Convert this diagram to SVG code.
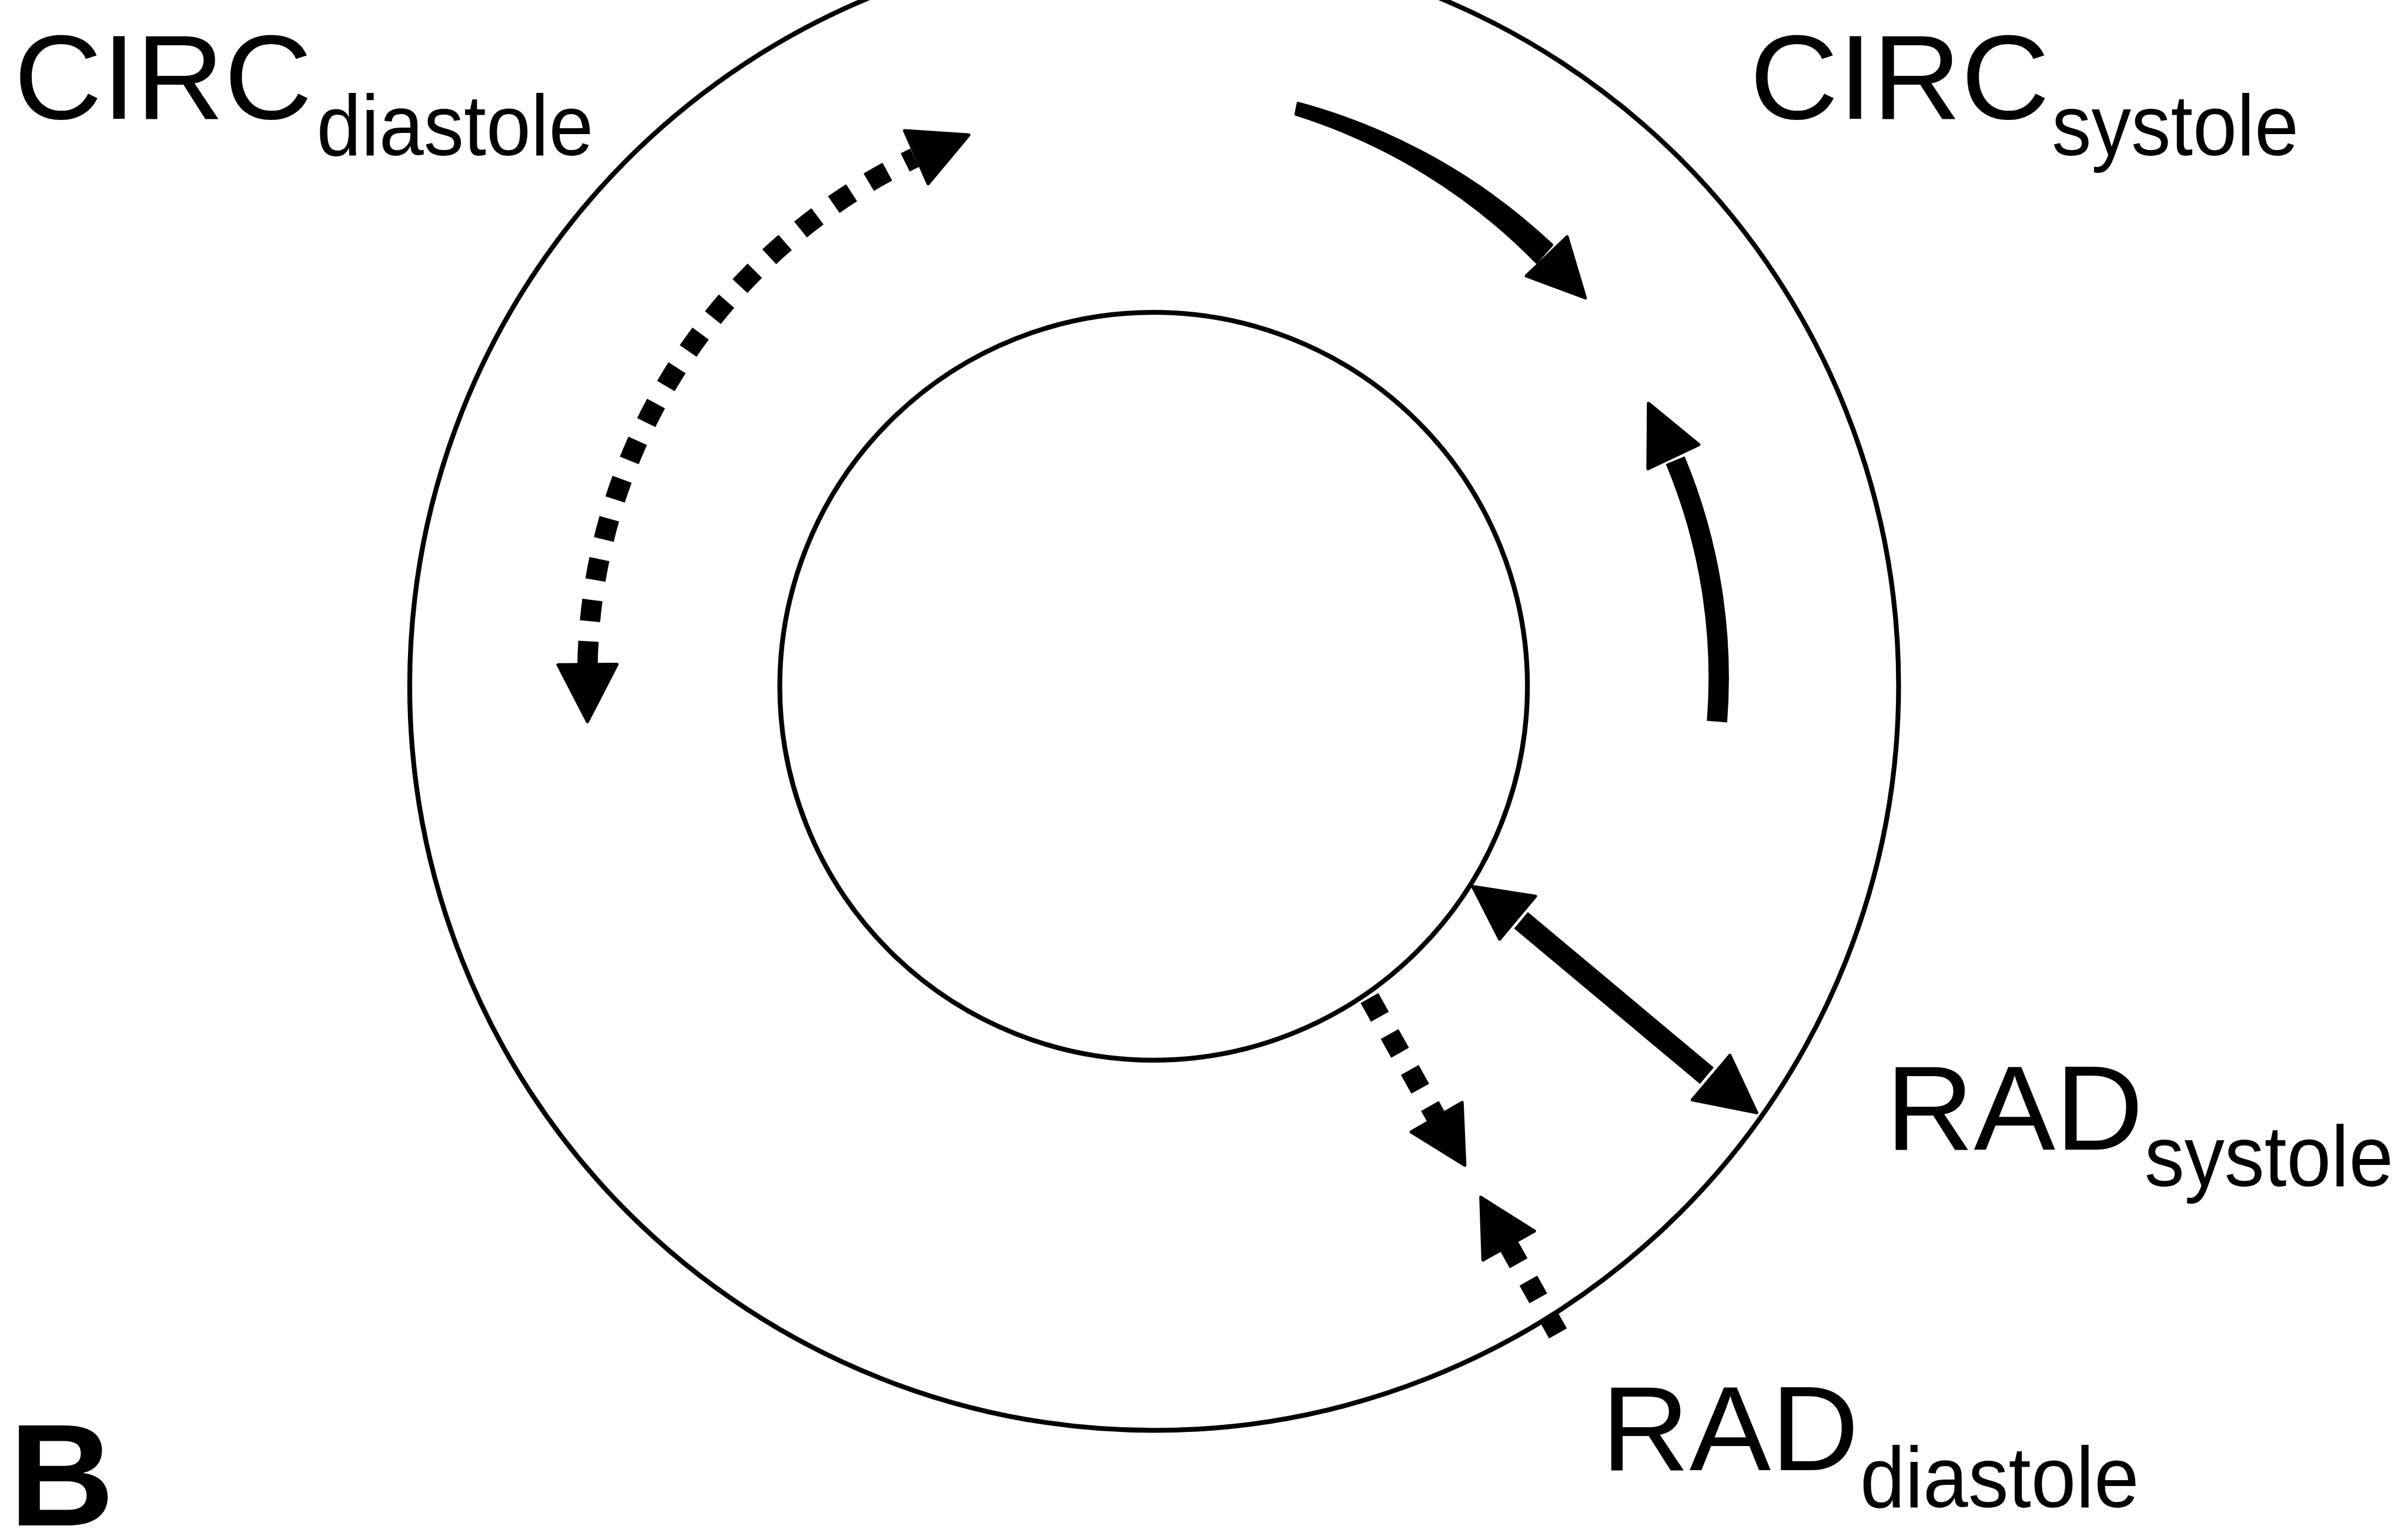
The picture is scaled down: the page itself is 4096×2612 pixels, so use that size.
<svg xmlns="http://www.w3.org/2000/svg" width="4096" height="2612" viewBox="0 0 4096 2612">
<style>
.ring{fill:none;stroke:#000;stroke-width:9}
.lbl{font-family:"Liberation Sans",Arial,sans-serif;fill:#000}
.big{font-size:225px}
.sub{font-size:160px}
.head{fill:#000;stroke:#000;stroke-width:6;stroke-linejoin:round}
.solid{fill:none;stroke:#000;stroke-linecap:butt}
.dots{fill:none;stroke:#000;stroke-width:38;stroke-linecap:butt}
</style>
<rect width="4096" height="2612" fill="#fff"/>
<g transform="scale(0.911)">
  <g id="outer-wall"><circle class="ring" cx="2155" cy="1280" r="1390"/></g>
  <g id="inner-wall"><circle class="ring" cx="2154" cy="1281" r="698"/></g>

  <g id="connectors">
    <!-- CIRC diastole: dotted double-headed arc -->
    <g id="circ-diastole-arrow">
      <path class="dots" d="M1097,1241 A1070,1070 0 0 1 1711,293" stroke-dasharray="44 37.5 40 37.5 40 37.5 40 37.5 40 37.5 40 37.5 40 37.5 40 37.5 40 37.5 40 37.5 40 37.5 40 37.5 40 37.5 40 37.5 40 37.5 20 100"/>
      <polygon class="head" points="1042,1241 1152,1240 1097,1347"/>
      <polygon class="head" points="1689,244 1809,252 1733,343"/>
    </g>
    <!-- CIRC systole: solid arcs -->
    <g id="circ-systole-arrows">
      <path class="head" d="M2424,193 A1115,1115 0 0 1 2897,457 L2869,489 A1085,1085 0 0 0 2420,213 Z"/>
      <polygon class="head" points="2850,515 2926,442 2960,556"/>
      <path class="solid" stroke-width="38" d="M3206,1347 A1055,1055 0 0 0 3128,859"/>
      <polygon class="head" points="3078,753 3172,830 3077,875"/>
    </g>
    <!-- RAD systole: solid double-headed radial arrow -->
    <g id="rad-systole-arrow">
      <line class="solid" stroke-width="40" x1="2840" y1="1718" x2="3187" y2="2008"/>
      <polygon class="head" points="2750,1655 2867,1673 2800,1753"/>
      <polygon class="head" points="3280,2077 3230,1970 3160,2053"/>
    </g>
    <!-- RAD diastole: dotted radial arrows -->
    <g id="rad-diastole-arrows">
      <line class="dots" x1="2557" y1="1863" x2="2682" y2="2086" stroke-dasharray="40 37"/>
      <polygon class="head" points="2635,2113 2730,2058 2735,2175"/>
      <line class="dots" x1="2817" y1="2325" x2="2909" y2="2489" stroke-dasharray="38 37"/>
      <polygon class="head" points="2765,2235 2865,2298 2769,2352"/>
    </g>
  </g>

  <g id="label-circ-diastole">
    <text class="lbl big" x="26" y="222" textLength="557" lengthAdjust="spacingAndGlyphs">CIRC</text>
    <text class="lbl sub" x="591" y="290" textLength="517" lengthAdjust="spacingAndGlyphs">diastole</text>
  </g>
  <g id="label-circ-systole">
    <text class="lbl big" x="3267" y="222" textLength="560" lengthAdjust="spacingAndGlyphs">CIRC</text>
    <text class="lbl sub" x="3831" y="290" textLength="461" lengthAdjust="spacingAndGlyphs">systole</text>
  </g>
  <g id="label-rad-systole">
    <text class="lbl big" x="3521" y="2146" textLength="481" lengthAdjust="spacingAndGlyphs">RAD</text>
    <text class="lbl sub" x="4004" y="2214" textLength="465" lengthAdjust="spacingAndGlyphs">systole</text>
  </g>
  <g id="label-rad-diastole">
    <text class="lbl big" x="2990" y="2744" textLength="481" lengthAdjust="spacingAndGlyphs">RAD</text>
    <text class="lbl sub" x="3473" y="2813" textLength="521" lengthAdjust="spacingAndGlyphs">diastole</text>
  </g>
  <g id="panel-label">
    <text class="lbl" x="17" y="2847" font-size="272" font-weight="bold">B</text>
  </g>
</g>
</svg>
